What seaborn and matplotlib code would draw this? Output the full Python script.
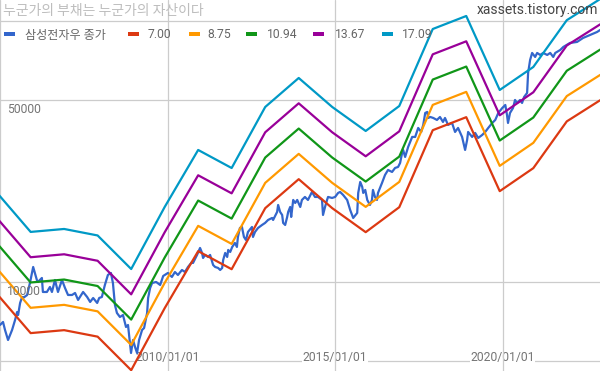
import numpy as np
import pandas as pd
import matplotlib
matplotlib.use("Agg")
import matplotlib.pyplot as plt
import matplotlib.transforms as mtransforms
from matplotlib.patches import Rectangle
from matplotlib.ticker import NullLocator
import seaborn as sns

# ---------------- data ----------------
title_text = "누군가의 부채는 누군가의 자산이다"
source_text = "xassets.tistory.com"
price_name = "삼성전자우 종가"
per_values = [7.00, 8.75, 10.94, 13.67, 17.09]
per_labels = ["7.00", "8.75", "10.94", "13.67", "17.09"]
series_colors = ["#3366cc", "#dc3912", "#ff9900", "#109618", "#990099", "#0099c6"]

eps_year = [2004, 2005, 2006, 2007, 2008, 2009, 2010, 2011, 2012, 2013,
            2014, 2015, 2016, 2017, 2018, 2019, 2020, 2021, 2022]
eps = [1283, 910, 934, 882, 656, 1134, 1875, 1599, 2740, 3538,
       2740, 2217, 2763, 5450, 6113, 3183, 3899, 5891, 7104]

price_year = [
    2005.00, 2005.09, 2005.15, 2005.24, 2005.36, 2005.45, 2005.51, 2005.54, 2005.60, 2005.66,
    2005.69, 2005.81, 2005.90, 2005.99, 2006.10, 2006.13, 2006.25, 2006.28, 2006.40, 2006.49,
    2006.55, 2006.64, 2006.73, 2006.85, 2006.94, 2007.03, 2007.15, 2007.24, 2007.33, 2007.48,
    2007.60, 2007.69, 2007.78, 2007.90, 2007.96, 2008.04, 2008.13, 2008.22, 2008.31, 2008.37,
    2008.43, 2008.49, 2008.58, 2008.67, 2008.76, 2008.82, 2008.91, 2008.97, 2009.03, 2009.09,
    2009.15, 2009.24, 2009.30, 2009.39, 2009.42, 2009.48, 2009.54, 2009.66, 2009.78, 2009.87,
    2010.01, 2010.13, 2010.22, 2010.31, 2010.43, 2010.52, 2010.61, 2010.73, 2010.76, 2010.88,
    2010.97, 2011.03, 2011.06, 2011.12, 2011.21, 2011.27, 2011.36, 2011.42, 2011.51, 2011.57,
    2011.63, 2011.66, 2011.72, 2011.78, 2011.81, 2011.87, 2011.93, 2012.01, 2012.07, 2012.10,
    2012.16, 2012.22, 2012.28, 2012.34, 2012.40, 2012.52, 2012.55, 2012.61, 2012.70, 2012.82,
    2012.91, 2013.00, 2013.12, 2013.15, 2013.27, 2013.30, 2013.36, 2013.42, 2013.45, 2013.51,
    2013.57, 2013.60, 2013.66, 2013.69, 2013.75, 2013.81, 2013.87, 2013.96, 2014.01, 2014.10,
    2014.19, 2014.31, 2014.40, 2014.49, 2014.61, 2014.64, 2014.70, 2014.76, 2014.79, 2014.91,
    2015.00, 2015.09, 2015.15, 2015.24, 2015.36, 2015.45, 2015.54, 2015.66, 2015.69, 2015.75,
    2015.81, 2015.84, 2015.90, 2015.96, 2016.04, 2016.10, 2016.13, 2016.19, 2016.25, 2016.28,
    2016.40, 2016.49, 2016.58, 2016.70, 2016.79, 2016.88, 2016.94, 2017.00, 2017.03, 2017.09,
    2017.18, 2017.30, 2017.39, 2017.48, 2017.57, 2017.63, 2017.69, 2017.75, 2017.78, 2017.84,
    2017.93, 2018.04, 2018.13, 2018.22, 2018.28, 2018.37, 2018.49, 2018.58, 2018.67, 2018.79,
    2018.88, 2018.94, 2018.97, 2019.09, 2019.18, 2019.27, 2019.39, 2019.48, 2019.57, 2019.69,
    2019.78, 2019.87, 2019.99, 2020.08, 2020.13, 2020.16, 2020.22, 2020.31, 2020.37, 2020.43,
    2020.52, 2020.58, 2020.64, 2020.73, 2020.76, 2020.82, 2020.88, 2020.97, 2021.03, 2021.12,
    2021.21, 2021.33, 2021.42, 2021.51, 2021.57, 2021.72, 2021.81, 2022.01, 2022.22, 2022.40,
    2022.61, 2022.82, 2022.91,
]
price = [
    6843, 7027, 6547, 5995, 6547, 7152, 7673, 7473, 8311, 8761,
    8683, 8917, 10000, 11416, 10178, 10000, 10360, 9156, 9156, 9568,
    9156, 10178, 9156, 10178, 9484, 8917, 8917, 9076, 8534, 9156,
    8761, 8385, 8683, 8311, 8683, 8761, 9739, 10637, 10827, 9912,
    8166, 7606, 7342, 7473, 6724, 6843, 5346, 5995, 5636, 5346,
    5995, 6547, 6664, 7606, 8683, 9484, 9912, 10000, 9739, 10543,
    10827, 10451, 10923, 10637, 11117, 10923, 11416, 11931, 11826, 12692,
    13499, 12918, 12359, 12692, 12470, 12692, 11619, 11416, 11315, 11117,
    11315, 12143, 12918, 12470, 13264, 13032, 13620, 14109, 13620, 14876,
    16103, 16247, 14876, 14487, 15547, 16247, 14876, 15547, 16103, 16536,
    16831, 17282, 17590, 17282, 18547, 19728, 18547, 18062, 16831, 16536,
    17747, 18547, 19383, 17747, 20618, 20080, 20618, 19383, 20618, 21171,
    20618, 22126, 21171, 21171, 20618, 18062, 19383, 20618, 21171, 20984,
    21171, 21932, 22126, 21548, 20618, 18877, 17590, 18384, 21932, 24166,
    23123, 21932, 22520, 20618, 19728, 20618, 22520, 21171, 20618, 21932,
    23954, 25705, 26864, 26394, 27342, 27586, 28577, 31210, 32046, 30127,
    32903, 35943, 35943, 38912, 37563, 39958, 44413, 44806, 42493, 42872,
    42493, 41760, 42872, 41030, 42493, 39958, 40670, 37563, 38912, 35943,
    32046, 34998, 37563, 35943, 37234, 35624, 36582, 37563, 38912, 40670,
    41760, 44413, 46412, 47660, 43635, 40670, 44413, 46412, 49809, 48509,
    49809, 48509, 51142, 52980, 63212, 70890, 75412, 72796, 75412, 74092,
    75412, 74092, 75412, 72796, 75412, 77433, 79502, 82360, 83087, 86067,
    88381, 90752, 92367,
]

y_grid_values = [5000, 10000, 50000, 100000]
y_label_values = [10000, 50000]
x_grid_years = [2005, 2010, 2015, 2020]
x_label_years = [2010, 2015, 2020]


def year_to_date(years):
    years = np.asarray(years, dtype=float)
    return pd.Timestamp("2005-01-01") + pd.to_timedelta((years - 2005.0) * 365.25, unit="D")


# ---------------- tables ----------------
price_df = pd.DataFrame({"date": year_to_date(price_year), "value": price})

band_dates = pd.to_datetime([f"{y}-12-01" for y in eps_year])
band_rows = []
for per, lab in zip(per_values, per_labels):
    for d, e in zip(band_dates, eps):
        band_rows.append({"date": d, "value": e * per, "series": lab})
band_df = pd.DataFrame(band_rows)

# ---------------- style ----------------
sns.set_style("white")
plt.rcParams["font.family"] = ["Roboto", "Noto Sans CJK KR", "DejaVu Sans"]

fig = plt.figure(figsize=(6.0, 3.71), dpi=100)
ax = fig.add_axes([0, 0, 1, 1])
ax.set_yscale("log")

sns.lineplot(data=price_df, x="date", y="value", color=series_colors[0],
             linewidth=1.6, estimator=None, ax=ax, legend=False, zorder=3)
sns.lineplot(data=band_df, x="date", y="value", hue="series", hue_order=per_labels,
             palette=series_colors[1:], linewidth=1.6, estimator=None, ax=ax,
             legend=False, zorder=3)

ax.set_xlim(pd.Timestamp("2005-01-01"), pd.Timestamp("2022-11-28"))
ax.set_ylim(4560, 120300)

for s in ax.spines.values():
    s.set_visible(False)
ax.set_xlabel("")
ax.set_ylabel("")
ax.set_yticks(y_grid_values)
ax.yaxis.set_minor_locator(NullLocator())
ax.set_xticks(pd.to_datetime([f"{y}-01-01" for y in x_grid_years]))
ax.tick_params(length=0, labelbottom=False, labelleft=False)
ax.grid(True, axis="y", color="#cccccc", linewidth=0.9)
ax.set_axisbelow(True)
for y in x_grid_years:
    ax.axvline(pd.Timestamp(f"{y}-01-01"), color="#cccccc", linewidth=0.9, zorder=1.7)

label_color = "#757575"
ylab_tr = mtransforms.offset_copy(ax.get_yaxis_transform(), fig=fig, x=0, y=-10, units="dots")
for v in y_label_values:
    ax.text(0.012, v, f"{v}", transform=ylab_tr, ha="left", va="center",
            fontsize=8.7, color=label_color, zorder=5)

for y in x_label_years:
    ax.text(pd.Timestamp(f"{y}-01-01"), 1 - 357 / 371, f"{y}/01/01",
            transform=ax.get_xaxis_transform(), ha="center", va="center",
            fontsize=8.7, color=label_color, zorder=1.5,
            bbox=dict(facecolor="white", edgecolor="none", pad=0.3))

# title and source
fig.text(3 / 600, 1 - 10.5 / 371, title_text, ha="left", va="center",
         fontsize=10, color="#bdbdbd", family=["Noto Sans CJK KR", "DejaVu Sans"])
fig.text(598 / 600, 1 - 10 / 371, source_text, ha="right", va="center",
         fontsize=10, color="#444444")

# legend
legend_names = [price_name] + per_labels
marker_x = [4, 128, 189, 246, 313, 382]
text_x = [25, 148, 207, 267, 335, 402]
for name, col, mx, tx in zip(legend_names, series_colors, marker_x, text_x):
    fig.patches.append(Rectangle((mx / 600, 1 - 36 / 371), 11 / 600, 4 / 371,
                                 transform=fig.transFigure, facecolor=col,
                                 edgecolor="none", zorder=6))
    fig.text(tx / 600, 1 - 35 / 371, name, ha="left", va="center",
             fontsize=8.7, color="#666666", zorder=6)

fig.savefig("out.png", dpi=100)
